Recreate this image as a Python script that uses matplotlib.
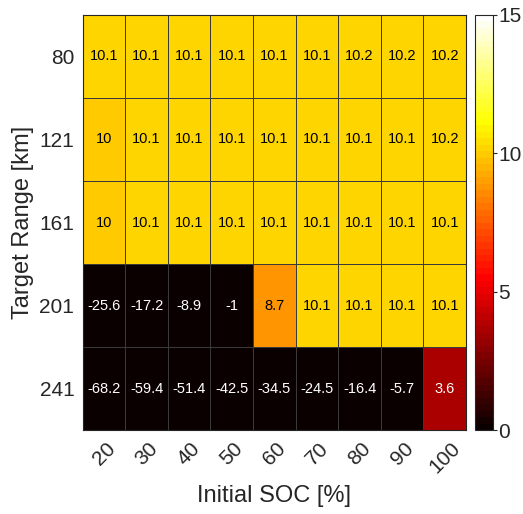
import numpy as np
import matplotlib
matplotlib.use("Agg")
import matplotlib.pyplot as plt
from matplotlib.colors import ListedColormap

initial_soc = ["20", "30", "40", "50", "60", "70", "80", "90", "100"]
target_range = ["80", "121", "161", "201", "241"]

row_80 = [10.1, 10.1, 10.1, 10.1, 10.1, 10.1, 10.2, 10.2, 10.2]
row_121 = [10, 10.1, 10.1, 10.1, 10.1, 10.1, 10.1, 10.1, 10.2]
row_161 = [10, 10.1, 10.1, 10.1, 10.1, 10.1, 10.1, 10.1, 10.1]
row_201 = [-25.6, -17.2, -8.9, -1, 8.7, 10.1, 10.1, 10.1, 10.1]
row_241 = [-68.2, -59.4, -51.4, -42.5, -34.5, -24.5, -16.4, -5.7, 3.6]

cbar_ticks = [0, 5, 10, 15]


def matlab_hot(m=64):
    # same construction as MATLAB's hot(m)
    n = int(3 / 8 * m)
    r = np.concatenate([np.arange(1, n + 1) / n, np.ones(m - n)])
    g = np.concatenate([np.zeros(n), np.arange(1, n + 1) / n, np.ones(m - 2 * n)])
    b = np.concatenate([np.zeros(2 * n), np.arange(1, m - 2 * n + 1) / (m - 2 * n)])
    return ListedColormap(np.column_stack([r, g, b]))


plt.rcParams['font.family'] = ['Liberation Sans', 'DejaVu Sans']
txt = '#262626'

data = np.array([row_80, row_121, row_161, row_201, row_241])
cmap = matlab_hot()

fig = plt.figure(figsize=(5.23, 5.14), dpi=100)
ax = fig.add_axes([0.158, 0.163, 0.733, 0.808])

mesh = ax.pcolormesh(data, cmap=cmap, vmin=0, vmax=15,
                     edgecolors='#3a3a3a', linewidth=0.45)
ax.set_xlim(0, data.shape[1])
ax.set_ylim(data.shape[0], 0)

for i in range(data.shape[0]):
    for j in range(data.shape[1]):
        v = data[i, j]
        rgb = cmap(np.clip(v / 15, 0, 0.9999))[:3]
        lum = 0.299 * rgb[0] + 0.587 * rgb[1] + 0.114 * rgb[2]
        color = 'white' if lum < 0.5 else 'black'
        ax.text(j + 0.5, i + 0.5, f"{v:g}", ha='center', va='center',
                fontsize=10.5, color=color)

ax.set_xticks(np.arange(len(initial_soc)) + 0.5)
ax.set_xticklabels(initial_soc, rotation=45, ha='center')
ax.set_yticks(np.arange(len(target_range)) + 0.5)
ax.set_yticklabels(target_range)
ax.tick_params(length=0, labelsize=15, labelcolor=txt, pad=6)
for s in ax.spines.values():
    s.set_color(txt)
    s.set_linewidth(0.8)

ax.set_xlabel("Initial SOC [%]", fontsize=17, color=txt, labelpad=6)
ax.set_ylabel("Target Range [km]", fontsize=17, color=txt, labelpad=4)

cax = fig.add_axes([0.908, 0.163, 0.034, 0.808])
cb = fig.colorbar(mesh, cax=cax, ticks=cbar_ticks)
cb.outline.set_edgecolor(txt)
cb.outline.set_linewidth(0.8)
cax.tick_params(labelsize=15, labelcolor=txt, color=txt, length=3, width=0.8, pad=1)

fig.savefig("out.png", dpi=100)
